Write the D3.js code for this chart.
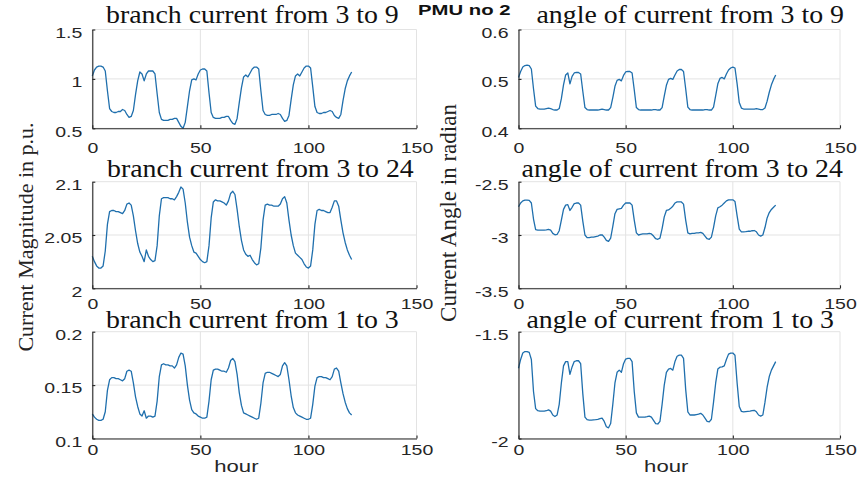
<!DOCTYPE html>
<html>
<head>
<meta charset="utf-8">
<script src="https://cdn.jsdelivr.net/npm/d3@7"></script>
<style>
  body { margin: 0; background: #fff; }
  svg { display: block; }
</style>
</head>
<body>
<svg id="chart" width="859" height="477"></svg>
<script>
// hourly samples, 0..120 h
const hours = d3.range(0, 121)
const xTicks = [0, 50, 100, 150]

// branch current 3 -> 9 (p.u.)
const cur3to9 = [
  1.03,1.09,1.12,1.13,1.13,1.12, 1.08,0.88,0.70,0.67,0.66,0.66, 0.67,0.67,0.69,0.68,0.64,0.61, 0.62,0.68,0.84,0.98,1.07,1.05,
  0.98,1.05,1.08,1.08,1.08,1.05, 0.85,0.66,0.59,0.58,0.58,0.58, 0.59,0.59,0.60,0.60,0.56,0.52, 0.50,0.56,0.72,0.88,0.99,1.00,
  0.99,1.05,1.09,1.10,1.10,1.08, 0.86,0.66,0.61,0.60,0.60,0.60, 0.61,0.61,0.62,0.62,0.58,0.55, 0.54,0.60,0.76,0.91,1.02,1.04,
  1.02,1.06,1.10,1.12,1.12,1.10, 0.88,0.68,0.64,0.63,0.63,0.64, 0.64,0.64,0.65,0.64,0.60,0.57, 0.58,0.63,0.79,0.94,1.03,1.05,
  1.03,1.07,1.11,1.13,1.13,1.11, 0.92,0.72,0.66,0.65,0.65,0.66, 0.66,0.67,0.68,0.67,0.63,0.61, 0.60,0.64,0.78,0.90,0.98,1.03, 1.07
]
// branch current 3 -> 24 (p.u.)
const cur3to24 = [
  2.030,2.025,2.021,2.019,2.019,2.021, 2.035,2.060,2.072,2.073,2.073,2.072, 2.072,2.071,2.070,2.073,2.079,2.080, 2.078,2.068,2.054,2.042,2.034,2.030,
  2.025,2.036,2.030,2.027,2.025,2.026, 2.040,2.068,2.084,2.085,2.085,2.085, 2.084,2.084,2.083,2.086,2.090,2.095, 2.093,2.080,2.062,2.048,2.040,2.034,
  2.033,2.030,2.027,2.025,2.024,2.025, 2.040,2.066,2.081,2.083,2.082,2.082, 2.081,2.080,2.078,2.082,2.089,2.091, 2.088,2.074,2.058,2.045,2.036,2.032,
  2.030,2.031,2.027,2.024,2.022,2.023, 2.038,2.064,2.078,2.079,2.078,2.078, 2.077,2.077,2.077,2.079,2.084,2.086, 2.080,2.064,2.050,2.040,2.033,2.031,
  2.029,2.027,2.023,2.020,2.019,2.021, 2.036,2.060,2.073,2.074,2.073,2.073, 2.072,2.071,2.071,2.076,2.082,2.082, 2.077,2.064,2.052,2.043,2.036,2.031, 2.027
]
// branch current 1 -> 3 (p.u.)
const cur1to3 = [
  0.123,0.120,0.118,0.117,0.117,0.118, 0.125,0.145,0.155,0.157,0.157,0.156, 0.156,0.155,0.154,0.156,0.163,0.164, 0.163,0.152,0.139,0.130,0.123,0.121,
  0.126,0.119,0.121,0.121,0.120,0.121, 0.135,0.158,0.169,0.170,0.169,0.169, 0.168,0.168,0.166,0.169,0.176,0.180, 0.179,0.168,0.150,0.136,0.127,0.124,
  0.123,0.121,0.120,0.119,0.119,0.120, 0.135,0.155,0.164,0.165,0.165,0.164, 0.163,0.163,0.162,0.166,0.173,0.175, 0.172,0.160,0.143,0.131,0.124,0.123,
  0.122,0.121,0.120,0.119,0.118,0.119, 0.133,0.152,0.161,0.162,0.162,0.161, 0.160,0.159,0.158,0.160,0.168,0.171, 0.168,0.155,0.140,0.129,0.124,0.122,
  0.121,0.120,0.119,0.118,0.118,0.119, 0.132,0.149,0.157,0.158,0.158,0.157, 0.157,0.156,0.155,0.158,0.165,0.166, 0.163,0.152,0.142,0.134,0.128,0.124, 0.122
]
// current angle 3 -> 9 (rad)
const ang3to9 = [
  0.503,0.515,0.524,0.527,0.528,0.527, 0.520,0.480,0.445,0.440,0.439,0.439, 0.439,0.440,0.441,0.440,0.438,0.437, 0.437,0.440,0.460,0.488,0.508,0.512,
  0.490,0.505,0.512,0.513,0.513,0.510, 0.475,0.442,0.438,0.437,0.437,0.437, 0.437,0.437,0.438,0.439,0.438,0.437, 0.437,0.442,0.462,0.485,0.497,0.499,
  0.496,0.507,0.514,0.515,0.515,0.512, 0.478,0.442,0.438,0.437,0.437,0.437, 0.437,0.437,0.437,0.438,0.438,0.437, 0.437,0.442,0.465,0.487,0.499,0.501,
  0.499,0.508,0.516,0.519,0.519,0.515, 0.480,0.443,0.438,0.437,0.437,0.437, 0.437,0.437,0.437,0.438,0.438,0.437, 0.437,0.443,0.466,0.490,0.501,0.503,
  0.500,0.510,0.518,0.522,0.524,0.522, 0.490,0.452,0.441,0.439,0.439,0.439, 0.439,0.439,0.439,0.440,0.439,0.438, 0.438,0.441,0.455,0.473,0.488,0.499, 0.508
]
// current angle 3 -> 24 (rad)
const ang3to24 = [
  -2.735,-2.700,-2.680,-2.672,-2.672,-2.675, -2.700,-2.850,-2.950,-2.955,-2.955,-2.955, -2.955,-2.952,-2.948,-2.955,-2.985,-2.998, -2.995,-2.960,-2.860,-2.760,-2.720,-2.715,
  -2.770,-2.740,-2.705,-2.700,-2.700,-2.720, -2.870,-3.000,-3.025,-3.025,-3.020,-3.020, -3.015,-3.010,-3.000,-2.998,-3.020,-3.050, -3.060,-3.030,-2.920,-2.800,-2.760,-2.755,
  -2.750,-2.720,-2.700,-2.700,-2.700,-2.720, -2.860,-2.980,-3.000,-2.995,-2.990,-2.990, -2.990,-2.985,-2.990,-3.010,-3.035,-3.040, -3.030,-2.940,-2.830,-2.770,-2.765,-2.750,
  -2.730,-2.700,-2.690,-2.690,-2.690,-2.710, -2.860,-2.980,-2.990,-2.985,-2.985,-2.980, -2.980,-2.975,-2.985,-3.010,-3.035,-3.040, -3.020,-2.930,-2.820,-2.745,-2.735,-2.720,
  -2.700,-2.680,-2.670,-2.670,-2.670,-2.685, -2.820,-2.945,-2.970,-2.970,-2.968,-2.965, -2.965,-2.960,-2.958,-2.970,-3.000,-3.010, -3.000,-2.930,-2.840,-2.790,-2.760,-2.740, -2.720
]
// current angle 1 -> 3 (rad)
const ang1to3 = [
  -1.671,-1.630,-1.600,-1.593,-1.593,-1.597, -1.630,-1.780,-1.860,-1.870,-1.872,-1.872, -1.872,-1.870,-1.866,-1.872,-1.890,-1.897, -1.890,-1.840,-1.740,-1.660,-1.640,-1.640,
  -1.700,-1.665,-1.640,-1.636,-1.636,-1.650, -1.790,-1.900,-1.912,-1.914,-1.914,-1.913, -1.912,-1.910,-1.907,-1.905,-1.920,-1.945, -1.950,-1.930,-1.840,-1.740,-1.690,-1.680,
  -1.690,-1.650,-1.628,-1.625,-1.625,-1.640, -1.780,-1.880,-1.900,-1.900,-1.900,-1.900, -1.898,-1.895,-1.900,-1.915,-1.930,-1.932, -1.920,-1.840,-1.750,-1.690,-1.675,-1.672,
  -1.680,-1.640,-1.615,-1.610,-1.610,-1.625, -1.770,-1.875,-1.890,-1.890,-1.890,-1.888, -1.886,-1.882,-1.890,-1.905,-1.920,-1.922, -1.910,-1.830,-1.740,-1.675,-1.666,-1.665,
  -1.660,-1.630,-1.605,-1.600,-1.600,-1.610, -1.740,-1.850,-1.873,-1.875,-1.874,-1.873, -1.872,-1.870,-1.868,-1.875,-1.890,-1.895, -1.890,-1.830,-1.760,-1.710,-1.680,-1.660, -1.640
]

const titles = [
  'branch current from 3 to 9', 'angle of current from 3 to 9',
  'branch current from 3 to 24', 'angle of current from 3 to 24',
  'branch current from 1 to 3', 'angle of current from 1 to 3'
]
const series = [cur3to9, ang3to9, cur3to24, ang3to24, cur1to3, ang1to3]
const yDomains = [[0.5, 1.5], [0.4, 0.6], [2, 2.1], [-3.5, -2.5], [0.1, 0.2], [-2, -1.5]]
const yTickSets = [[0.5, 1, 1.5], [0.4, 0.5, 0.6], [2, 2.05, 2.1], [-3.5, -3, -2.5], [0.1, 0.15, 0.2], [-2, -1.5]]

// layout of the 2x3 grid
const cols = [{left: 92.3, width: 324.2}, {left: 518.5, width: 321.5}]
const rows = [
  {top: 29.5, height: 98.8, xPad: 14, titleGap: 7},
  {top: 181.7, height: 106.6, xPad: 10, titleGap: 5},
  {top: 331.7, height: 106.8, xPad: 6, titleGap: 4}
]
const titleShift = [-2, 11, 6, 3, -2, 1]

const lineColor = '#1f6fad'
const gridColor = '#e3e3e3'
const axisColor = '#262626'
const sans = '"Liberation Sans", Arial, sans-serif'
const serif = '"Liberation Serif", "Times New Roman", serif'

function widen(sel, k) {
  sel.each(function() {
    const w = this.getComputedTextLength()
    d3.select(this).attr('textLength', w * k).attr('lengthAdjust', 'spacingAndGlyphs')
  })
}

class PmuPanel {
  constructor(_config, _data) {
    this.config = {
      parentElement: _config.parentElement,
      left: _config.left,
      top: _config.top,
      width: _config.width,
      height: _config.height,
      title: _config.title,
      titleShift: _config.titleShift || 0,
      titleGap: _config.titleGap || 6,
      yDomain: _config.yDomain,
      yTicks: _config.yTicks,
      xPad: _config.xPad
    }
    this.data = _data
    this.initVis()
  }

  initVis() {
    let vis = this

    vis.chart = d3.select(vis.config.parentElement).append('g')
      .attr('transform', `translate(${vis.config.left},${vis.config.top})`)

    vis.xScale = d3.scaleLinear().domain([0, 150]).range([0, vis.config.width])
    vis.yScale = d3.scaleLinear().domain(vis.config.yDomain).range([vis.config.height, 0])

    vis.xAxis = d3.axisBottom(vis.xScale)
      .tickValues(xTicks).tickFormat(d => String(d))
      .tickSizeInner(-3).tickSizeOuter(0).tickPadding(vis.config.xPad)
    vis.yAxis = d3.axisLeft(vis.yScale)
      .tickValues(vis.config.yTicks).tickFormat(d => String(d))
      .tickSizeInner(-3).tickSizeOuter(0).tickPadding(10)

    vis.gridG = vis.chart.append('g').attr('class', 'grid')
    vis.lineG = vis.chart.append('g')
    vis.xAxisG = vis.chart.append('g')
      .attr('class', 'axis x-axis')
      .attr('transform', `translate(0,${vis.config.height})`)
    vis.yAxisG = vis.chart.append('g').attr('class', 'axis y-axis')

    vis.renderVis()
  }

  renderVis() {
    let vis = this
    const w = vis.config.width, h = vis.config.height

    vis.gridG.selectAll('.gx')
      .data(xTicks)
      .join('line')
        .attr('class', 'gx')
        .attr('x1', d => vis.xScale(d)).attr('x2', d => vis.xScale(d))
        .attr('y1', 0).attr('y2', h)
        .attr('stroke', gridColor)
    vis.gridG.selectAll('.gy')
      .data(vis.config.yTicks)
      .join('line')
        .attr('class', 'gy')
        .attr('x1', 0).attr('x2', w)
        .attr('y1', d => vis.yScale(d)).attr('y2', d => vis.yScale(d))
        .attr('stroke', gridColor)

    const line = d3.line()
      .x((d, i) => vis.xScale(hours[i]))
      .y(d => vis.yScale(d))

    vis.lineG.append('path')
      .datum(vis.data)
      .attr('fill', 'none')
      .attr('stroke', lineColor)
      .attr('stroke-width', 1.3)
      .attr('stroke-linejoin', 'round')
      .attr('d', line)

    vis.xAxisG.call(vis.xAxis)
    vis.yAxisG.call(vis.yAxis)

    vis.chart.selectAll('.axis')
      .attr('font-size', 15)
      .attr('font-family', sans)
    vis.chart.selectAll('.axis path, .axis line')
      .attr('stroke', axisColor).attr('stroke-width', 1.1)
    vis.chart.selectAll('.axis text').attr('fill', axisColor)
    vis.yAxisG.selectAll('text').attr('dy', '0.52em')
    widen(vis.chart.selectAll('.axis text'), 1.3)

    const t = vis.chart.append('text')
      .attr('x', w / 2 + vis.config.titleShift)
      .attr('y', -vis.config.titleGap)
      .attr('text-anchor', 'middle')
      .attr('font-family', serif)
      .attr('font-size', 26)
      .attr('fill', '#111')
      .text(vis.config.title)
    widen(t, 1.07)
  }
}

const svg = d3.select('#chart')

series.forEach((values, i) => {
  const c = cols[i % 2], r = rows[Math.floor(i / 2)]
  new PmuPanel({
    parentElement: '#chart',
    left: c.left, top: r.top, width: c.width, height: r.height,
    title: titles[i], titleShift: titleShift[i], titleGap: r.titleGap,
    yDomain: yDomains[i], yTicks: yTickSets[i], xPad: r.xPad
  }, values)
})

// shared labels
svg.append('text')
  .attr('transform', 'translate(33,237) rotate(-90)')
  .attr('text-anchor', 'middle')
  .attr('font-family', serif).attr('font-size', 22).attr('fill', '#222')
  .text('Current Magnitude in p.u.')

svg.append('text')
  .attr('transform', 'translate(456,213) rotate(-90)')
  .attr('text-anchor', 'middle')
  .attr('font-family', serif).attr('font-size', 23).attr('fill', '#222')
  .text('Current Angle in radian')

const hourLabels = svg.selectAll('.hour')
  .data([cols[0].left + cols[0].width / 2 - 18, cols[1].left + cols[1].width / 2 - 13])
  .join('text')
    .attr('class', 'hour')
    .attr('x', d => d).attr('y', 471.5)
    .attr('text-anchor', 'middle')
    .attr('font-family', sans).attr('font-size', 17).attr('fill', axisColor)
    .text('hour')
widen(hourLabels, 1.3)

const pmu = svg.append('text')
  .attr('x', 418).attr('y', 15)
  .attr('font-family', sans).attr('font-weight', 'bold').attr('font-size', 14).attr('fill', '#111')
  .text('PMU no 2')
widen(pmu, 1.45)
</script>
</body>
</html>
